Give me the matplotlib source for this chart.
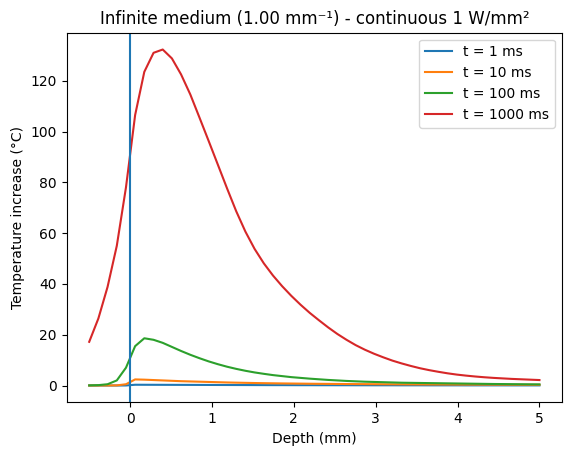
import matplotlib
matplotlib.use("Agg")
import matplotlib.pyplot as plt

# depth samples (mm)
depth = [-0.500, -0.388, -0.276, -0.163, -0.051, 0.061, 0.173, 0.286, 0.398, 0.510,
         0.622, 0.735, 0.847, 0.959, 1.071, 1.184, 1.296, 1.408, 1.520, 1.633,
         1.745, 1.857, 1.969, 2.082, 2.194, 2.306, 2.418, 2.531, 2.643, 2.755,
         2.867, 2.980, 3.092, 3.204, 3.316, 3.429, 3.541, 3.653, 3.765, 3.878,
         3.990, 4.102, 4.214, 4.327, 4.439, 4.551, 4.663, 4.776, 4.888, 5.000]

# temperature increase (degC) for each exposure time
t1 = [0, 0, 0, 0, 0.02, 0.30, 0.29, 0.28, 0.27, 0.26,
      0.25, 0.24, 0.23, 0.22, 0.21, 0.20, 0.19, 0.18, 0.17, 0.16,
      0.15, 0.15, 0.14, 0.13, 0.13, 0.12, 0.12, 0.11, 0.11, 0.10,
      0.10, 0.09, 0.09, 0.09, 0.08, 0.08, 0.08, 0.07, 0.07, 0.07,
      0.07, 0.06, 0.06, 0.06, 0.06, 0.06, 0.05, 0.05, 0.05, 0.05]
t10 = [0, 0, 0.01, 0.05, 0.5, 2.4, 2.3, 2.15, 2.0, 1.85,
       1.7, 1.6, 1.5, 1.4, 1.3, 1.2, 1.12, 1.05, 0.98, 0.92,
       0.87, 0.82, 0.78, 0.74, 0.70, 0.67, 0.64, 0.61, 0.58, 0.56,
       0.54, 0.52, 0.50, 0.48, 0.46, 0.44, 0.43, 0.41, 0.40, 0.39,
       0.37, 0.36, 0.35, 0.34, 0.33, 0.32, 0.31, 0.30, 0.29, 0.28]
t100 = [0.05, 0.15, 0.5, 2.0, 7.0, 15.5, 18.6, 18.0, 16.8, 15.2,
        13.6, 12.1, 10.75, 9.5, 8.4, 7.4, 6.55, 5.8, 5.15, 4.6,
        4.1, 3.7, 3.3, 3.0, 2.7, 2.45, 2.2, 2.0, 1.8, 1.65,
        1.5, 1.4, 1.3, 1.2, 1.1, 1.05, 1.0, 0.95, 0.9, 0.85,
        0.8, 0.75, 0.7, 0.65, 0.6, 0.57, 0.53, 0.5, 0.47, 0.45]
t1000 = [17.2, 26.4, 38.8, 55.0, 78.0, 106.5, 123.5, 131.0, 132.3, 128.8,
         122.5, 114.6, 105.5, 96.3, 87.0, 77.6, 68.6, 60.6, 53.8, 48.1,
         43.3, 39.1, 35.3, 31.8, 28.6, 25.7, 22.9, 20.3, 18.0, 15.9,
         14.1, 12.5, 11.1, 9.8, 8.7, 7.7, 6.8, 6.05, 5.4, 4.8,
         4.3, 3.9, 3.55, 3.25, 3.0, 2.8, 2.6, 2.45, 2.3, 2.15]

series = [("t = 1 ms", t1), ("t = 10 ms", t10), ("t = 100 ms", t100), ("t = 1000 ms", t1000)]

fig = plt.figure(figsize=(5.71, 4.55), dpi=100)
ax = fig.add_axes([0.1168, 0.1158, 0.8674, 0.8123])

for label, vals in series:
    ax.plot(depth, vals, label=label)

ax.axvline(0)
ax.set_title("Infinite medium (1.00 mm\u207b\u00b9) - continuous 1 W/mm\u00b2")
ax.set_xlabel("Depth (mm)")
ax.set_ylabel("Temperature increase (\u00b0C)")
ax.legend(loc="upper right")

fig.savefig("out.png", dpi=100)
